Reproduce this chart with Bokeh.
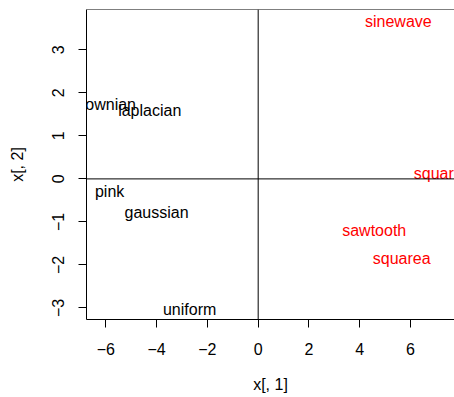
from bokeh.plotting import figure
from bokeh.models import Span, FixedTicker, Range1d, ColumnDataSource
from bokeh.core.properties import value
from bokeh.embed import file_html
from bokeh.resources import INLINE

# data
labels = ["sinewave", "square", "sawtooth", "squarea", "uniform", "gaussian", "pink", "laplacian", "brownian"]
x1 = [5.52, 7.09, 4.57, 5.65, -2.70, -4.00, -5.85, -4.27, -6.09]
x2 = [3.66, 0.13, -1.21, -1.86, -3.04, -0.78, -0.29, 1.60, 1.74]
colors = ["#FF0000", "#FF0000", "#FF0000", "#FF0000", "black", "black", "black", "black", "black"]
x_ticks = [-6, -4, -2, 0, 2, 4, 6]
y_ticks = [-3, -2, -1, 0, 1, 2, 3]

X_START, X_END = -6.76, 7.73
Y_START, Y_END = -3.27, 3.94

FONT = "Liberation Sans"

p = figure(width=454, height=397, output_backend="svg", toolbar_location=None,
           x_range=Range1d(X_START, X_END), y_range=Range1d(Y_START, Y_END),
           min_border_left=86, min_border_bottom=78, min_border_top=9, min_border_right=0)
p.outline_line_color = None
p.grid.visible = False
p.background_fill_color = "white"
p.border_fill_color = "white"

def minus(v):
    return str(v).replace("-", "\u2212")

for ax, ticks in ((p.xaxis[0], x_ticks), (p.yaxis[0], y_ticks)):
    ax.ticker = FixedTicker(ticks=ticks)
    ax.major_label_overrides = {t: minus(t) for t in ticks}
    ax.minor_tick_line_color = None
    ax.major_tick_in = 0
    ax.major_tick_out = 8
    ax.major_tick_line_color = "black"
    ax.axis_line_color = "black"
    ax.major_label_text_font = FONT
    ax.major_label_text_font_size = "16px"
    ax.major_label_text_color = "black"
    ax.axis_label_text_font = FONT
    ax.axis_label_text_font_size = "16px"
    ax.axis_label_text_font_style = "normal"
    ax.axis_label_text_color = "black"

p.xaxis.axis_label = "x[, 1]"
p.yaxis.axis_label = "x[, 2]"
p.xaxis.major_label_standoff = 15
p.xaxis.axis_label_standoff = 18
p.yaxis.major_label_orientation = "vertical"
p.yaxis.major_label_standoff = 14
p.yaxis.axis_label_standoff = 24

p.add_layout(Span(location=Y_END, dimension="width", line_color="black", line_width=1))
p.add_layout(Span(location=0, dimension="width", line_color="black", line_width=1))
p.add_layout(Span(location=0, dimension="height", line_color="black", line_width=1))

src = ColumnDataSource(dict(x=x1, y=x2, text=labels, color=colors))
p.text(x="x", y="y", text="text", source=src, text_color="color",
       text_align="center", text_baseline="middle",
       text_font=value(FONT), text_font_size="16px")

open("out.html", "w").write(file_html(p, INLINE))
